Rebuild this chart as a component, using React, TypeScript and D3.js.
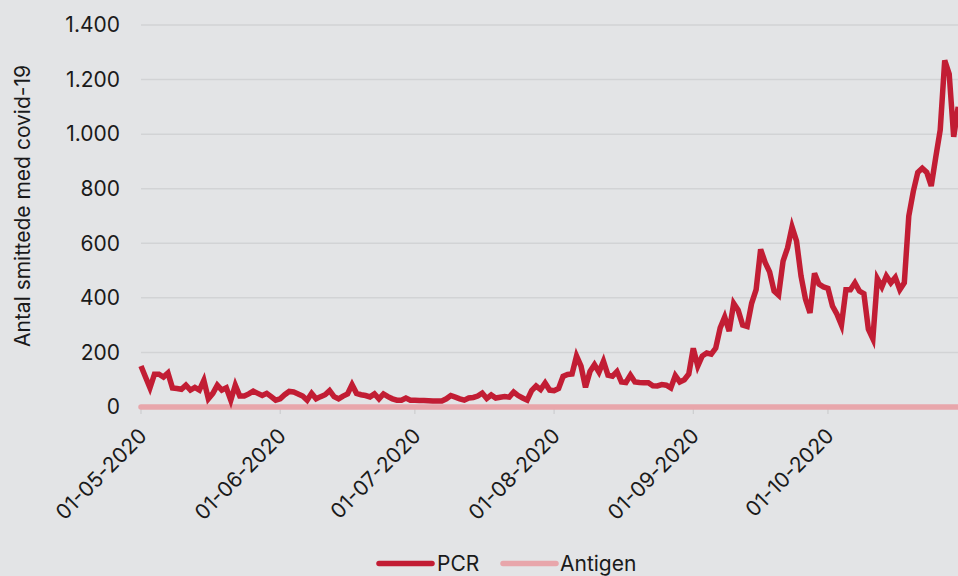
import React, { useEffect, useRef } from "react";
import * as d3 from "d3";

const startDate = Date.UTC(2020, 4, 1);
const endDate = Date.UTC(2020, 9, 31);

// Daily PCR positives from 01-05-2020 onward
const pcrMay = [150, 110, 70, 120, 120, 110, 125, 70, 68, 65, 80, 62, 72, 62, 98, 30, 50, 80, 62, 70, 25, 80, 40, 40, 48, 58, 50, 42, 50, 38, 25];
const pcrJun = [30, 45, 57, 55, 48, 40, 25, 50, 30, 38, 45, 60, 38, 30, 40, 48, 82, 50, 45, 42, 37, 48, 30, 48, 38, 30, 25, 25, 33, 25];
const pcrJul = [25, 24, 24, 23, 22, 22, 22, 30, 42, 36, 30, 25, 33, 35, 40, 51, 31, 44, 33, 36, 38, 36, 55, 42, 33, 25, 60, 77, 64, 88, 62];
const pcrAug = [60, 68, 112, 119, 121, 187, 150, 72, 130, 155, 128, 168, 117, 113, 130, 92, 90, 117, 92, 90, 89, 89, 78, 77, 82, 80, 70, 115, 92, 100, 121];
const pcrSep = [215, 150, 187, 198, 194, 216, 290, 330, 278, 380, 355, 300, 295, 380, 430, 578, 530, 495, 425, 410, 535, 583, 660, 608, 480, 395, 345, 490, 450, 440];
const pcrOct = [435, 370, 340, 300, 430, 430, 455, 425, 415, 285, 250, 470, 440, 480, 455, 475, 430, 455, 700, 790, 860, 875, 860, 810, 915, 1015, 1270, 1220, 990, 1100];

const antigenValues = [
  0, 0, 0, 0, 0, 0, 0, 0, 0, 0, 0, 0, 0, 0, 0, 0, 0, 0, 0, 0, 0, 0, 0, 0, 0, 0, 0, 0, 0, 0, 0,
  0, 0, 0, 0, 0, 0, 0, 0, 0, 0, 0, 0, 0, 0, 0, 0, 0, 0, 0, 0, 0, 0, 0, 0, 0, 0, 0, 0, 0, 0,
  0, 0, 0, 0, 0, 0, 0, 0, 0, 0, 0, 0, 0, 0, 0, 0, 0, 0, 0, 0, 0, 0, 0, 0, 0, 0, 0, 0, 0, 0, 0,
  0, 0, 0, 0, 0, 0, 0, 0, 0, 0, 0, 0, 0, 0, 0, 0, 0, 0, 0, 0, 0, 0, 0, 0, 0, 0, 0, 0, 0, 0, 0,
  0, 0, 0, 0, 0, 0, 0, 0, 0, 0, 0, 0, 0, 0, 0, 0, 0, 0, 0, 0, 0, 0, 0, 0, 0, 0, 0, 0, 0, 0,
  0, 0, 0, 0, 0, 0, 0, 0, 0, 0, 0, 0, 0, 0, 0, 0, 0, 0, 0, 0, 0, 0, 0, 0, 0, 0, 0, 0, 0, 0,
];

const yTicks = [0, 200, 400, 600, 800, 1000, 1200, 1400];
const xTickDates = [
  Date.UTC(2020, 4, 1),
  Date.UTC(2020, 5, 1),
  Date.UTC(2020, 6, 1),
  Date.UTC(2020, 7, 1),
  Date.UTC(2020, 8, 1),
  Date.UTC(2020, 9, 1),
];
const yTitle = "Antal smittede med covid-19";
const seriesNames = ["PCR", "Antigen"];
const seriesColors = ["#c21d34", "#e8a6ab"];

const W = 958;
const H = 576;
const FONT = "Inter, Roboto, 'Noto Sans', sans-serif";
const FS = 21;
const DAY = 86400000;

export default function App() {
  const ref = useRef<SVGSVGElement | null>(null);

  useEffect(() => {
    const svg = d3.select(ref.current);
    svg.selectAll("*").remove();

    const pcr = [...pcrMay, ...pcrJun, ...pcrJul, ...pcrAug, ...pcrSep, ...pcrOct];
    const pcrData = pcr.map((v, i) => ({ date: new Date(startDate + i * DAY), value: v }));
    const agData = antigenValues.map((v, i) => ({ date: new Date(startDate + i * DAY), value: v }));

    const x = d3
      .scaleUtc()
      .domain([new Date(startDate), new Date(endDate)])
      .range([141, 141 + 4.49 * 183]);
    const y = d3.scaleLinear().domain([0, 1400]).range([407, 25]);

    svg.append("rect").attr("width", W).attr("height", H).attr("fill", "#e3e4e6");

    // gridlines
    svg
      .append("g")
      .selectAll("line")
      .data(yTicks)
      .join("line")
      .attr("x1", 141)
      .attr("x2", W)
      .attr("y1", (d) => y(d))
      .attr("y2", (d) => y(d))
      .attr("stroke", "#d2d3d5")
      .attr("stroke-width", 1.5);

    // y labels
    svg
      .append("g")
      .selectAll("text")
      .data(yTicks)
      .join("text")
      .attr("x", 120)
      .attr("y", (d) => y(d))
      .attr("dy", "0.35em")
      .attr("text-anchor", "end")
      .attr("font-family", FONT)
      .attr("font-size", FS)
      .attr("fill", "#1a1a1a")
      .text((d) => d3.format(",")(d).replace(/,/g, "."));

    // y title
    svg
      .append("text")
      .attr("transform", "translate(30,206) rotate(-90)")
      .attr("text-anchor", "middle")
      .attr("font-family", FONT)
      .attr("font-size", FS)
      .attr("fill", "#1a1a1a")
      .text(yTitle);

    // x ticks
    const fmt = d3.utcFormat("%d-%m-%Y");
    const xt = svg
      .append("g")
      .selectAll("g")
      .data(xTickDates)
      .join("g")
      .attr("transform", (d) => `translate(${x(new Date(d))},0)`);
    xt.append("line")
      .attr("y1", 409)
      .attr("y2", 414)
      .attr("stroke", "#c8c9cb")
      .attr("stroke-width", 1);
    xt.append("text")
      .attr("transform", "translate(2,432) rotate(-45)")
      .attr("dy", "0.35em")
      .attr("text-anchor", "end")
      .attr("font-family", FONT)
      .attr("font-size", FS)
      .attr("fill", "#1a1a1a")
      .text((d) => fmt(new Date(d)));

    const line = d3
      .line<{ date: Date; value: number }>()
      .x((d) => x(d.date))
      .y((d) => y(d.value));

    svg
      .append("path")
      .datum(agData)
      .attr("d", line)
      .attr("fill", "none")
      .attr("stroke", seriesColors[1])
      .attr("stroke-width", 5.5)
      .attr("stroke-linecap", "round");

    svg
      .append("path")
      .datum(pcrData)
      .attr("d", line)
      .attr("fill", "none")
      .attr("stroke", seriesColors[0])
      .attr("stroke-width", 5.5)
      .attr("stroke-linejoin", "miter")
      .attr("stroke-linecap", "butt");

    // legend
    const legendItems = [
      { name: seriesNames[0], color: seriesColors[0], x1: 379, x2: 432, tx: 437 },
      { name: seriesNames[1], color: seriesColors[1], x1: 503, x2: 556, tx: 560 },
    ];
    const lg = svg.append("g").selectAll("g").data(legendItems).join("g");
    lg.append("line")
      .attr("x1", (d) => d.x1)
      .attr("x2", (d) => d.x2)
      .attr("y1", 563.5)
      .attr("y2", 563.5)
      .attr("stroke", (d) => d.color)
      .attr("stroke-width", 5.5)
      .attr("stroke-linecap", "round");
    lg.append("text")
      .attr("x", (d) => d.tx)
      .attr("y", 564)
      .attr("dy", "0.35em")
      .attr("font-family", FONT)
      .attr("font-size", FS)
      .attr("fill", "#1a1a1a")
      .text((d) => d.name);
  }, []);

  return (
    <svg
      ref={ref}
      width={W}
      height={H}
      style={{ position: "fixed", left: 0, top: 0, display: "block" }}
    />
  );
}
